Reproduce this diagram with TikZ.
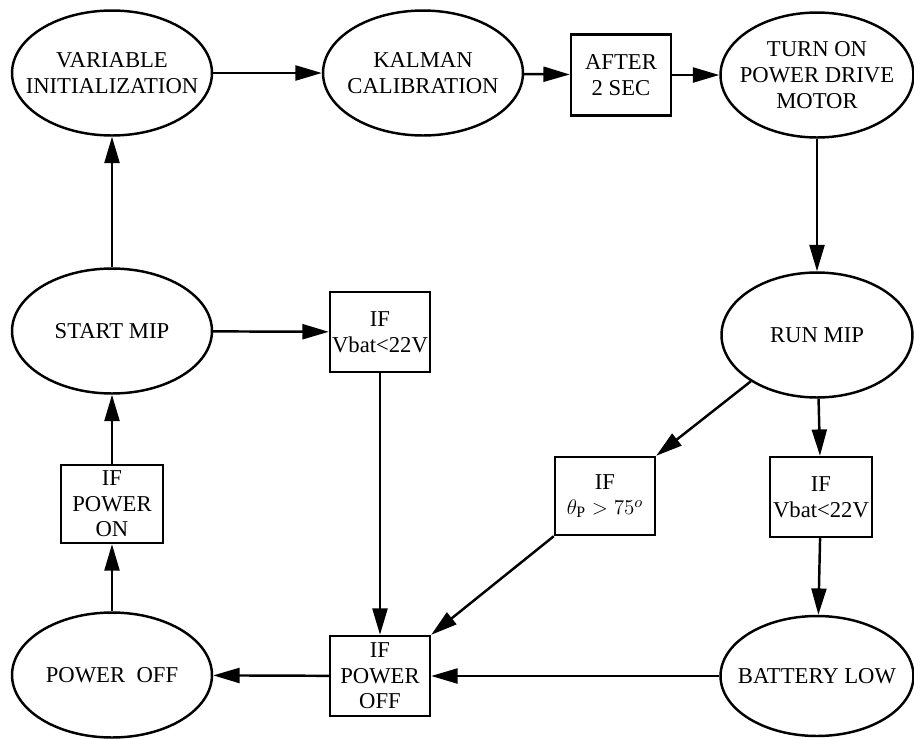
\documentclass[tikz,border=0pt]{standalone}
\usepackage{fontspec}
\setmainfont{Liberation Serif}
\usepackage{tikz}
\usetikzlibrary{arrows.meta, shapes.geometric}

\begin{document}
\begin{tikzpicture}[x=0.02cm, y=-0.02cm,
        font=\fontsize{12.9}{14.6}\selectfont,
        estado/.style={draw, ellipse, line width=1.4pt, inner xsep=-16pt, inner ysep=0pt,
            minimum width=4cm, minimum height=2.5cm, align=center},
        condicion/.style={draw, rectangle, line width=1.4pt, inner sep=0pt,
            minimum width=2cm, minimum height=1.6cm, align=center},
        flecha/.style={-{Triangle[length=15pt, width=8.5pt]}, line width=1.4pt}]
        \useasboundingbox (0,0) rectangle (914,738);

        % Estados
        \node[estado] (varinit) at (112,73) {VARIABLE\\INITIALIZATION};
        \node[estado] (kalman) at (423,73) {KALMAN\\CALIBRATION};
        \node[estado, minimum width=3.86cm] (turnon) at (817,75) {TURN ON\\POWER DRIVE\\MOTOR};
        \node[estado, minimum width=3.82cm] (runmip) at (817,335) {RUN MIP};
        \node[estado] (startmip) at (112,331) {START MIP};
        \node[estado] (powoff) at (112,675) {POWER~~OFF};
        \node[estado, minimum width=3.86cm, minimum height=2.4cm] (battlow) at (817,676) {BATTERY LOW};

        % Condiciones
        \node[condicion, minimum height=1.62cm] (after) at (621,75) {AFTER\\2 SEC};
        \node[condicion] (ifvbat) at (380,332) {IF\\Vbat<22V};
        \node[condicion, minimum width=2.04cm, minimum height=1.56cm] (ifpoweron) at (112,504) {IF\\POWER\\ON};
        \node[condicion] (ifpoweroff) at (380,676) {IF\\POWER\\OFF};
        \node[condicion, minimum height=1.56cm] (theta) at (605,496) {IF\\$\theta_{\mathrm{P}} > 75^{o}$};
        \node[condicion, minimum width=2.04cm] (ifvbatb) at (821,497) {IF\\Vbat<22V};

        % Flechas
        \draw[flecha] (varinit) -- (kalman);
        \draw[flecha] (kalman) -- (after);
        \draw[flecha] (after) -- (turnon);
        \draw[flecha] (turnon) -- (runmip);
        \draw[flecha] (runmip.215) -- (theta.north east);
        \draw[flecha] (runmip) -- (ifvbatb);
        \draw[flecha] (ifvbatb) -- (battlow);
        \draw[flecha] (battlow) -- (ifpoweroff);
        \draw[flecha] (theta.south west) -- (ifpoweroff.north east);
        \draw[flecha] (ifvbat) -- (ifpoweroff);
        \draw[flecha] (ifpoweroff) -- (powoff);
        \draw[flecha] (powoff) -- (ifpoweron);
        \draw[flecha] (ifpoweron) -- (startmip);
        \draw[flecha] (startmip) -- (ifvbat);
        \draw[flecha] (startmip) -- (varinit);
    \end{tikzpicture}
\end{document}
